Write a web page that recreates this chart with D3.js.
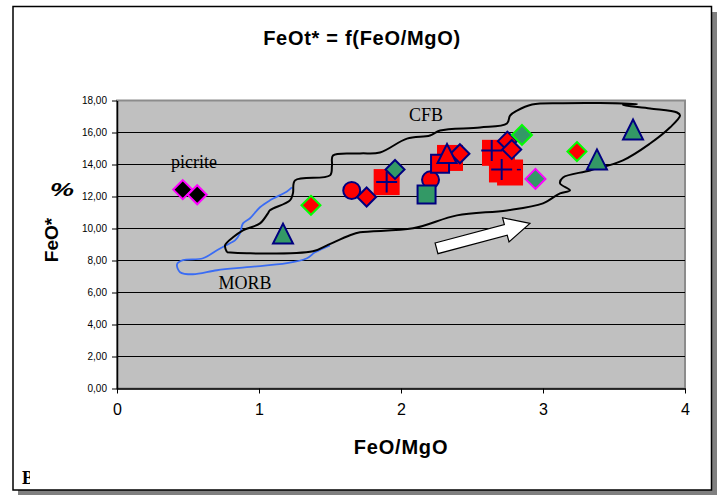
<!doctype html>
<html lang="en">
<head>
<meta charset="utf-8">
<title>FeOt* = f(FeO/MgO)</title>
<script src="https://d3js.org/d3.v7.min.js"></script>
<style>
  body { margin: 0; background: #fff; }
  svg { display: block; font-family: Arial, "Liberation Sans", sans-serif; }
</style>
</head>
<body>
<svg width="717" height="495"></svg>
<script>
// ---- data (x = FeO/MgO, y = FeO* %) ----
var xTicks = [0, 1, 2, 3, 4];
var yTicks = [0, 2, 4, 6, 8, 10, 12, 14, 16, 18];

// big red squares without border
var redBlockX = [1.899, 2.345, 2.662, 2.711, 2.768];
var redBlockY = [12.90, 14.41, 14.73, 13.69, 13.50];
// navy crosses
var crossX = [1.899, 2.639, 2.709];
var crossY = [12.90, 14.88, 13.68];
// small navy dash
var dashX = [2.83];
var dashY = [13.68];
// red circles, navy border
var circleX = [1.653, 2.208];
var circleY = [12.38, 13.04];
// red squares, navy border
var redSqX = [2.275];
var redSqY = [14.04];
// green squares, navy border
var greenSqX = [2.18];
var greenSqY = [12.13];
// red diamonds, navy border
var redDiaX = [1.758, 2.415, 2.749, 2.78];
var redDiaY = [11.97, 14.67, 15.46, 14.94];
// red triangle, navy border
var redTriX = [2.324];
var redTriY = [14.69];
// green diamond, navy border
var greenDiaX = [1.958];
var greenDiaY = [13.69];
// green triangles, navy border
var greenTriX = [1.169, 3.38, 3.634];
var greenTriY = [9.68, 14.32, 16.19];
// red diamonds, lime border
var redLimeX = [1.366, 3.239];
var redLimeY = [11.45, 14.81];
// green diamond, lime border
var greenLimeX = [2.852];
var greenLimeY = [15.85];
// green diamond, magenta border
var greenMagX = [2.947];
var greenMagY = [13.10];
// picrite: black diamonds, magenta border
var picriteX = [0.463, 0.565];
var picriteY = [12.43, 12.11];

// CFB field outline
var cfbX = [0.775, 0.915, 1.380, 1.479, 1.641, 1.711, 2.085, 2.394, 2.746, 3.000, 3.120, 3.190, 3.120, 3.141,
            3.331, 3.563, 3.754, 3.894, 3.965, 3.944, 3.754, 3.563, 3.662, 3.401, 3.141, 2.923, 2.817, 2.768,
            2.746, 2.556, 2.275, 2.204, 2.042, 1.852, 1.711, 1.521, 1.514, 1.500, 1.254, 1.239, 1.218, 1.077,
            1.063, 1.007, 0.887, 0.817, 0.761, 0.775];
var cfbY = [8.52, 8.45, 8.58, 8.95, 9.58, 9.76, 10.01, 10.82, 11.13, 11.57, 12.20, 12.38, 12.82, 13.19,
            13.63, 14.26, 15.31, 16.31, 17.06, 17.25, 17.50, 17.72, 17.78, 17.84, 17.83, 17.75, 17.37, 17.06,
            16.56, 16.31, 16.12, 15.81, 15.62, 14.75, 14.69, 14.56, 13.94, 13.32, 13.01, 12.20, 11.76, 11.14,
            10.95, 10.32, 9.89, 9.45, 8.95, 8.52];
// MORB field outline
var morbX = [1.232, 1.197, 1.077, 1.007, 0.937, 0.887, 0.866, 0.831, 0.796, 0.704, 0.606, 0.465, 0.423,
             0.444, 0.535, 0.704, 0.915, 1.197, 1.338, 1.394, 1.500];
var morbY = [12.57, 12.32, 11.76, 11.33, 10.64, 10.32, 9.70, 9.26, 9.08, 8.64, 8.14, 8.02, 7.77,
             7.27, 7.14, 7.39, 7.58, 7.83, 8.14, 8.51, 8.95];
// trend arrow (tail, tip)
var arrowX = [2.25, 2.908];
var arrowY = [8.76, 10.32];

var svg = d3.select("svg");
var plotL = 117, plotR = 685, plotT = 100.5, plotB = 388.5;

var x = d3.scaleLinear().domain([0, 4]).range([plotL, plotR]);
var y = d3.scaleLinear().domain([0, 18]).range([plotB, plotT]);

// frame with shadow
svg.append("rect").attr("x", 18).attr("y", 12).attr("width", 699).attr("height", 483).attr("fill", "#808080");
svg.append("rect").attr("x", 13).attr("y", 6.5).attr("width", 698.5).attr("height", 483.5)
    .attr("fill", "#fff").attr("stroke", "#000").attr("stroke-width", 1.5);

// title
svg.append("text").attr("x", 362).attr("y", 45).attr("text-anchor", "middle")
    .style("font-size", "20px").style("font-weight", "bold").style("letter-spacing", "0.7px")
    .text("FeOt* = f(FeO/MgO)");

// plot area
svg.append("rect").attr("x", plotL).attr("y", plotT).attr("width", plotR - plotL).attr("height", plotB - plotT)
    .attr("fill", "#c0c0c0").attr("stroke", "#8c8c8c").attr("stroke-width", 2);

svg.append("g").selectAll("line").data(yTicks.slice(1, -1)).enter().append("line")
    .attr("x1", plotL).attr("x2", plotR)
    .attr("y1", function(d) { return y(d); }).attr("y2", function(d) { return y(d); })
    .attr("stroke", "#000").attr("stroke-width", 1);

// axes
var yAxis = svg.append("g").attr("transform", "translate(" + plotL + ",0)")
    .call(d3.axisLeft(y).tickValues(yTicks).tickSize(5).tickSizeOuter(0).tickPadding(5)
        .tickFormat(function(d) { return d3.format(".2f")(d).replace(".", ","); }));
yAxis.selectAll("text").attr("font-size", 10).attr("font-family", "Arial, sans-serif");
yAxis.select(".domain").attr("stroke-width", 1.5);

var xAxis = svg.append("g").attr("transform", "translate(0," + plotB + ")")
    .call(d3.axisBottom(x).tickValues(xTicks).tickSize(5).tickSizeOuter(0).tickPadding(10)
        .tickFormat(d3.format("d")));
xAxis.attr("font-size", 16);
xAxis.selectAll("text").attr("font-size", 16).attr("font-family", "Arial, sans-serif");
xAxis.select(".domain").attr("stroke-width", 1.5);

// axis titles
svg.append("text").attr("x", 401).attr("y", 454).attr("text-anchor", "middle")
    .style("font-size", "20px").style("font-weight", "bold").style("letter-spacing", "0.8px")
    .text("FeO/MgO");
svg.append("text").attr("transform", "translate(58,240) rotate(-90)").attr("text-anchor", "middle")
    .style("font-size", "19px").style("font-weight", "bold").text("FeO*");
svg.append("text").attr("transform", "translate(62,196) scale(1.35,0.9)").attr("text-anchor", "middle")
    .style("font-size", "20px").style("font-weight", "bold").style("font-style", "italic").text("%");

// field outlines
var line = d3.line().x(function(d) { return x(d[0]); }).y(function(d) { return y(d[1]); })
    .curve(d3.curveCatmullRom.alpha(0.5));
svg.append("path").attr("d", line(d3.zip(morbX, morbY)))
    .attr("fill", "none").attr("stroke", "#3a6cf4").attr("stroke-width", 1.8);
svg.append("path").attr("d", line(d3.zip(cfbX, cfbY)))
    .attr("fill", "none").attr("stroke", "#000").attr("stroke-width", 2);

// field labels
function label(tx, ty, t) {
  svg.append("text").attr("x", tx).attr("y", ty).attr("text-anchor", "middle")
    .style("font-family", "'Liberation Serif', 'Times New Roman', serif").style("font-size", "18px").text(t);
}
label(426, 121, "CFB");
label(194, 168, "picrite");
label(245, 289, "MORB");

// trend arrow
(function() {
  var x0 = x(arrowX[0]), y0 = y(arrowY[0]), x1 = x(arrowX[1]), y1 = y(arrowY[1]);
  var len = Math.hypot(x1 - x0, y1 - y0), ang = Math.atan2(y1 - y0, x1 - x0) * 180 / Math.PI;
  var hw = 5.5, hh = 12.5, hl = 25;
  var pts = [[0, -hw], [len - hl, -hw], [len - hl, -hh], [len, 0], [len - hl, hh], [len - hl, hw], [0, hw]];
  svg.append("path").attr("d", "M" + pts.join("L") + "Z")
    .attr("transform", "translate(" + x0 + "," + y0 + ") rotate(" + ang + ")")
    .attr("fill", "#fff").attr("stroke", "#000").attr("stroke-width", 1.2);
})();

// markers
function shape(type, s) {
  var h = s / 2;
  if (type === "square") return "M" + -h + "," + -h + "H" + h + "V" + h + "H" + -h + "Z";
  if (type === "diamond") return "M0," + -h + "L" + h + ",0L0," + h + "L" + -h + ",0Z";
  if (type === "triangle") return "M0," + -h + "L" + h + "," + h + "H" + -h + "Z";
  if (type === "circle") return "M" + -h + ",0A" + h + "," + h + " 0 1,0 " + h + ",0A" + h + "," + h + " 0 1,0 " + -h + ",0Z";
  if (type === "cross") return "M" + -h + ",0H" + h + "M0," + -h + "V" + h;
  if (type === "dash") return "M" + -h + ",0H" + h;
}
function series(xs, ys, type, size, fill, stroke, sw) {
  svg.append("g").selectAll("path").data(d3.zip(xs, ys)).enter().append("path")
    .attr("transform", function(d) { return "translate(" + x(d[0]) + "," + y(d[1]) + ")"; })
    .attr("d", shape(type, size))
    .attr("fill", fill).attr("stroke", stroke).attr("stroke-width", sw);
}
var red = "#ff0000", navy = "#000080", green = "#339966", lime = "#00ff00", magenta = "#ff00ff";

series(redBlockX, redBlockY, "square", 26, red, "none", 0);
series(crossX, crossY, "cross", 21, "none", navy, 2);
series(dashX, dashY, "dash", 4, "none", navy, 1.5);
series(circleX, circleY, "circle", 17, red, navy, 2);
series(redSqX, redSqY, "square", 18, red, navy, 2);
series(greenSqX, greenSqY, "square", 18, green, navy, 2);
series(redDiaX, redDiaY, "diamond", 19, red, navy, 2);
series(redTriX, redTriY, "triangle", 19, red, navy, 2);
series(greenDiaX, greenDiaY, "diamond", 19, green, navy, 2);
series(greenTriX, greenTriY, "triangle", 20, green, navy, 2);
series(redLimeX, redLimeY, "diamond", 19, red, lime, 2);
series(greenLimeX, greenLimeY, "diamond", 20, green, lime, 2);
series(greenMagX, greenMagY, "diamond", 20, green, magenta, 2);
series(picriteX, picriteY, "diamond", 19, "#000", magenta, 2);

// clipped panel letter at the bottom left
svg.append("clipPath").attr("id", "bclip").append("rect").attr("x", 15).attr("y", 460).attr("width", 15).attr("height", 28);
svg.append("text").attr("x", 22).attr("y", 484).attr("clip-path", "url(#bclip)")
    .style("font-family", "'Liberation Serif', 'Times New Roman', serif").style("font-size", "18px")
    .style("font-weight", "bold").text("B");
</script>
</body>
</html>
